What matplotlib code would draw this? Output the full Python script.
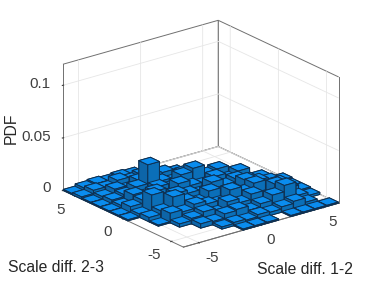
import numpy as np
import matplotlib
matplotlib.use('Agg')
import matplotlib.pyplot as plt

plt.rcParams['font.family'] = ['Liberation Sans', 'DejaVu Sans']

# bin heights x1000, rows from y=+6 down to y=-6, columns x=-6 to x=+6, -1 = no bar
heights = [
    [ 1,  3,  4,  3,  4,  3, -1, -1, -1, -1, -1, -1, -1],
    [ 2,  5,  4,  8,  5,  7,  5, -1, -1, -1, -1, -1, -1],
    [ 1,  3,  7,  4,  9,  6, 10,  7, -1, -1, -1, -1, -1],
    [ 1,  4,  6, 10, 28,  9,  6, 11,  7, -1, -1, -1, -1],
    [ 1,  3, 10,  6, 11,  7, 16, 19, 10, 12, -1, -1, -1],
    [ 1,  6,  9, 14,  7, 15, 10,  8, 12,  7, 11, -1, -1],
    [ 1,  3, 18,  8, 13, 10,  7, 14,  8, 11,  7,  6, -1],
    [-1,  4,  7, 17, 10,  6, 13,  8,  7, 14, 10,  7,  4],
    [-1,  1,  9,  7, 11,  8,  6, 15, 10, 15,  7,  9,  3],
    [-1, -1,  3,  5,  8,  4, 11,  7, 12,  6, 15,  8,  3],
    [-1, -1, -1,  4,  3,  7,  8,  4,  7, 12, 18,  5,  2],
    [-1, -1, -1, -1,  2,  3,  2,  4,  3,  5,  7,  3, -1],
    [-1, -1, -1, -1, -1,  1,  1,  1, -1,  1,  1,  1,  1],
]
xticks = [-5, 0, 5]
yticks = [-5, 0, 5]
zticks = [0, 0.05, 0.1]
xticklabels = ['-5', '0', '5']
yticklabels = ['-5', '0', '5']
zticklabels = ['0', '0.05', '0.1']

lim = 6.25
edges = np.linspace(-lim, lim, 14)
step = edges[1] - edges[0]
width = 0.97 * step

H = np.array(heights[::-1], dtype=float) / 1000
jj, ii = np.nonzero(H >= 0)
dz = H[jj, ii]

fig = plt.figure(figsize=(3.74, 2.81), dpi=100)
ax = fig.add_axes([10 / 374, 3 / 281, 1, 1], projection='3d')
ax.set_proj_type('ortho')
ax.view_init(elev=21.4, azim=-127.8)
ax.set_box_aspect((1, 1, 0.69), zoom=1.068)

top, side1, side2 = '#0a8cee', '#0b6fb8', '#0d65a8'
face_colors = [top, top, side1, side1, side2, side2]
colors = np.array([matplotlib.colors.to_rgba(c) for c in face_colors] * len(dz))
bars = ax.bar3d(edges[ii] + 0.015 * step, edges[jj] + 0.015 * step, np.zeros_like(dz), width, width, dz,
                color=colors, edgecolor='#0f2f4f', linewidth=0.7, shade=False)
bars.set_clip_on(False)

ax.set_xlim(-lim, lim, view_margin=0)
ax.set_ylim(-lim, lim, view_margin=0)
ax.set_zlim(0, 0.12, view_margin=0)
# tick labels are placed by hand below, 3d tick labels wont shift where needed
ax.set_xticks(xticks, [''] * 3)
ax.set_yticks(yticks, [''] * 3)
ax.set_zticks(zticks, [''] * 3)
ax.zaxis.set_ticks_position('upper')

for axis in (ax.xaxis, ax.yaxis, ax.zaxis):
    axis.set_pane_color((1, 1, 1, 1))
    axis.pane.set_edgecolor('#707070')
    axis.pane.set_linewidth(0.7)
    axis.line.set_color('#707070')
    axis.line.set_linewidth(0.7)
    axis._axinfo['grid'].update(color='#e6e6e6', linewidth=0.6)
    axis._axinfo['tick'].update(inward_factor=0.05, outward_factor=0.05)
ax.tick_params(colors='#404040', width=0.5)
# right hand vertical edge of the box, axes box clips it otherwise
ax.plot([lim, lim], [-lim, -lim], [0, 0.12], color='#707070', lw=0.7, clip_on=False)

def label(px, py, s, **kwargs):
    # text at reference pixel position
    fig.text(px / 374, 1 - py / 281, s, fontsize=11, color='#404040', va='center', **kwargs)

for s, px, py in zip(xticklabels, [212, 271, 333], [258, 240, 222]):
    label(px, py, s, ha='center')
for s, px, py in zip(yticklabels, [154, 108, 61], [255, 232, 210]):
    label(px, py, s, ha='center')
for s, py in zip(zticklabels, [188, 137, 84]):
    label(51, py, s, ha='right')

fig.text(8 / 374, 1 - 267 / 281, 'Scale diff. 2-3', fontsize=11.3, color='#262626', va='center')
fig.text(257 / 374, 1 - 270 / 281, 'Scale diff. 1-2', fontsize=11.3, color='#262626', va='center')
fig.text(11 / 374, 1 - 128 / 281, 'PDF', fontsize=11.3, color='#262626', rotation=90, va='center', ha='center')

fig.savefig('out.png', dpi=100)
